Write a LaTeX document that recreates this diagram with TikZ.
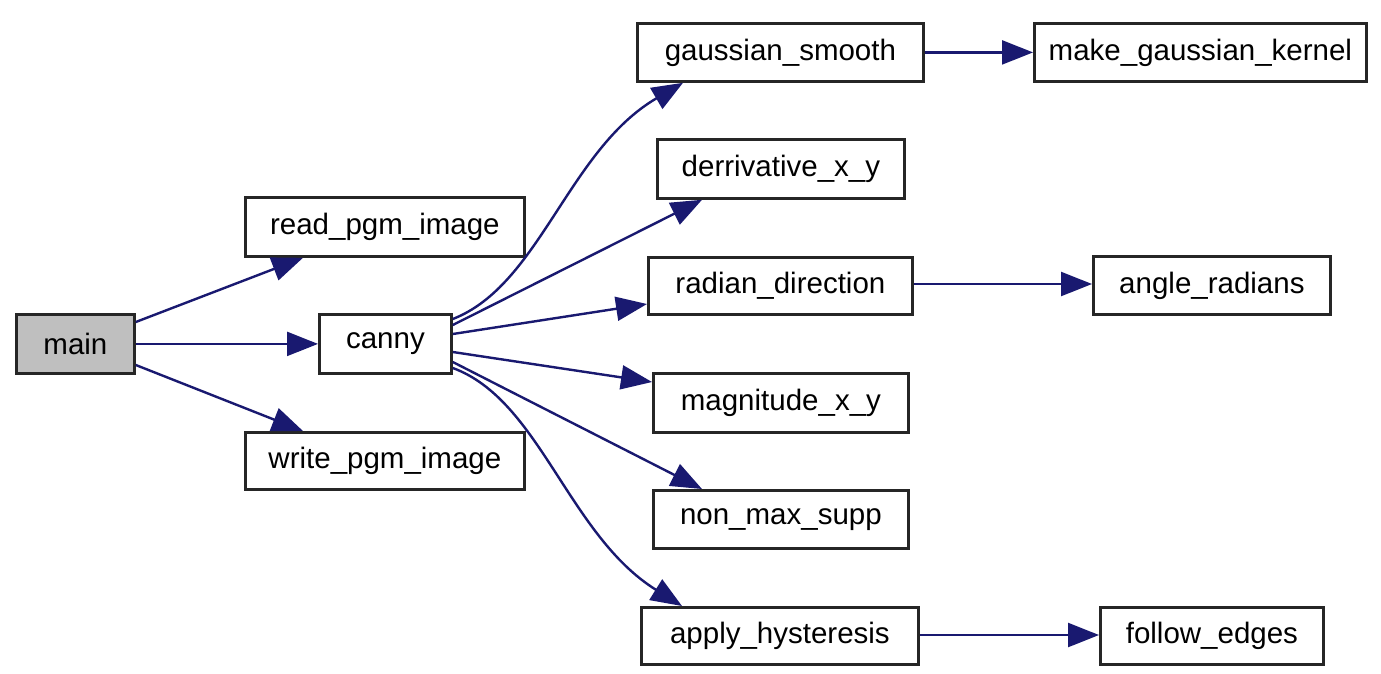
\documentclass[tikz,border=0pt]{standalone}
\usepackage{fontspec}
\setmainfont{Liberation Sans}
\usetikzlibrary{arrows.meta}
\definecolor{edgeblue}{HTML}{191970}
\definecolor{maingray}{HTML}{BFBFBF}
\tikzset{
  fn/.style={draw=black!85, line width=2.8pt, fill=white, inner sep=0pt,
    font=\fontsize{29.5}{30}\selectfont, anchor=north west},
  call/.style={draw=edgeblue, line width=2.4pt,
    -{Triangle[length=31pt,width=24pt]}},
}
\newcommand{\fnbox}[7][]{% options, name, x1, y1, x2, y2, text
  \node[fn, #1, minimum width={(#5-#3)*1pt}, minimum height={(#6-#4)*1pt}] (#2) at (#3,#4) {#7};}
\begin{document}
\begin{tikzpicture}[x=1pt,y=-1pt]
\useasboundingbox (0,0) rectangle (1381,673);
\fill[white] (0,0) rectangle (1381,673);
\fnbox[fill=maingray]{main}{15}{313}{133}{372}{main}
\fnbox{read}{244}{196}{523}{255}{read\_pgm\_image}
\fnbox{canny}{318}{313}{450}{372}{canny}
\fnbox{write}{244}{431}{523}{488}{write\_pgm\_image}
\fnbox{gauss}{636}{22}{922}{80}{gaussian\_smooth}
\fnbox{kernel}{1033}{22}{1365}{80}{make\_gaussian\_kernel}
\fnbox{deriv}{656}{138}{903}{197}{derrivative\_x\_y}
\fnbox{radian}{647}{256}{911}{313}{radian\_direction}
\fnbox{angle}{1092}{255}{1329}{313}{angle\_radians}
\fnbox{magn}{652}{372}{907}{431}{magnitude\_x\_y}
\fnbox{nonmax}{652}{489}{907}{547}{non\_max\_supp}
\fnbox{hyst}{640}{606}{917}{663}{apply\_hysteresis}
\fnbox{follow}{1099}{606}{1322}{663}{follow\_edges}

\draw[call] (main.east |- 0,322) -- (read.south -| 303,0);
\draw[call] (main.east) -- (canny.west);
\draw[call] (main.east |- 0,365) -- (write.north -| 303,0);

\draw[call] (canny.east |- 0,319) .. controls (540,285) and (568,150) .. (gauss.south -| 683,0);
\draw[call] (canny.east |- 0,325) -- (deriv.south -| 702,0);
\draw[call] (canny.east |- 0,334) -- (radian.west |- 0,304);
\draw[call] (canny.east |- 0,352) -- (magn.west |- 0,382);
\draw[call] (canny.east |- 0,362) -- (nonmax.north -| 702,0);
\draw[call] (canny.east |- 0,368) .. controls (540,400) and (568,535) .. (hyst.north -| 682,0);

\draw[call] (gauss.east) -- (kernel.west);
\draw[call] (radian.east |- 0,284) -- (angle.west |- 0,284);
\draw[call] (hyst.east |- 0,635) -- (follow.west |- 0,635);
\end{tikzpicture}
\end{document}
